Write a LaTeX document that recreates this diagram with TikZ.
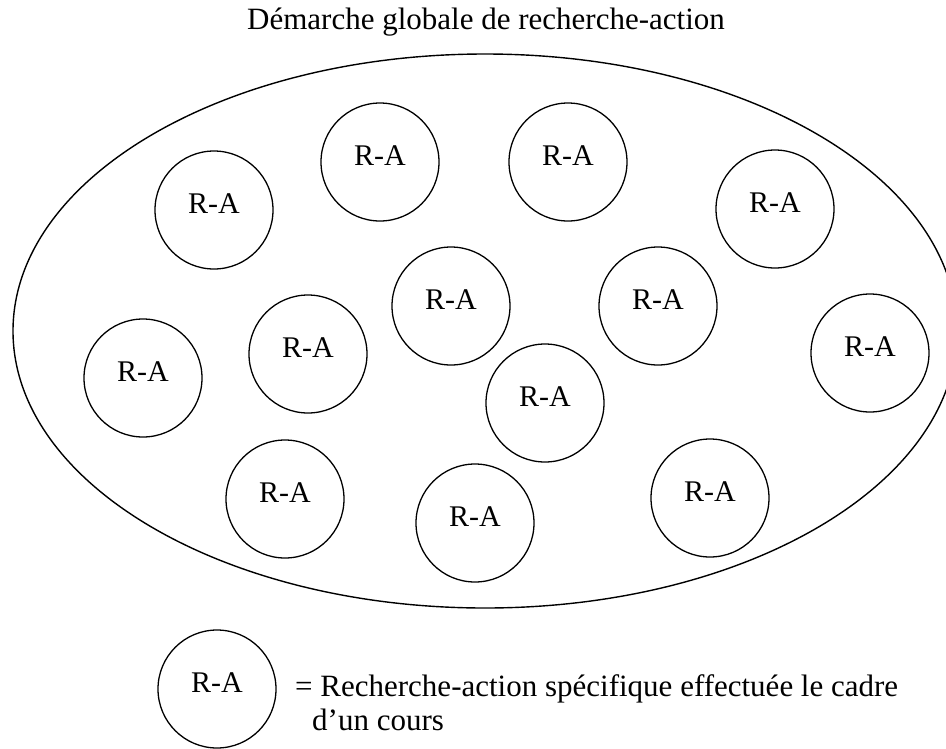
\documentclass[tikz,border=0pt]{standalone}
\usepackage{fontspec}
\setmainfont{Liberation Serif}
\usetikzlibrary{shapes.geometric}
\begin{document}
\begin{tikzpicture}[x=1pt,y=-1pt,
  ra/.style={draw, circle, line width=1.3pt, minimum size=118pt, inner sep=0pt,
    font=\fontsize{30}{34}\selectfont, text height=20pt, text depth=14pt},
  txt/.style={inner sep=0pt, font=\fontsize{31}{34}\selectfont}]
\useasboundingbox (0,0) rectangle (946,748);
\clip (0,0) rectangle (946,748);
\node[txt, anchor=base] (title) at (486,29) {Démarche globale de recherche-action};
\node[draw, ellipse, line width=1.4pt, minimum width=944pt, minimum height=554pt, inner sep=0pt] (global) at (485,331) {};
\node[ra] (ra1) at (214,210) {R-A};
\node[ra] (ra2) at (380,162) {R-A};
\node[ra] (ra3) at (568,162) {R-A};
\node[ra] (ra4) at (775,209) {R-A};
\node[ra] (ra5) at (451,306) {R-A};
\node[ra] (ra6) at (658,306) {R-A};
\node[ra] (ra7) at (308,354) {R-A};
\node[ra] (ra8) at (143,378) {R-A};
\node[ra] (ra9) at (870,353) {R-A};
\node[ra] (ra10) at (545,403) {R-A};
\node[ra] (ra11) at (285,499) {R-A};
\node[ra] (ra12) at (475,523) {R-A};
\node[ra] (ra13) at (710,498) {R-A};
\node[ra] (raleg) at (217,689) {R-A};
\node[txt, anchor=base west] (leg1) at (295,696) {= Recherche-action spécifique effectuée le cadre};
\node[txt, anchor=base west] (leg2) at (312,730) {d’un cours};
\end{tikzpicture}
\end{document}
